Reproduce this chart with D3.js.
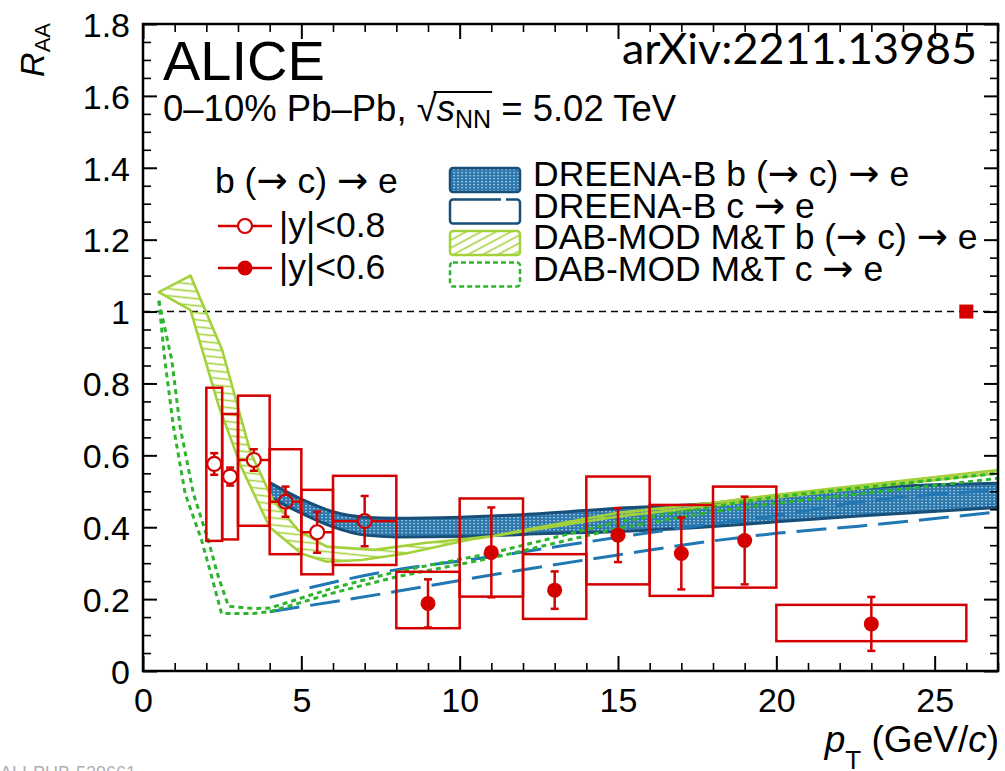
<!DOCTYPE html>
<html><head><meta charset="utf-8">
<script src="https://cdn.jsdelivr.net/npm/d3@7/dist/d3.min.js"></script>
<style>
body{margin:0;background:#fff;}
svg{display:block;}
text{font-family:"Liberation Sans",Arial,Helvetica,sans-serif;fill:#000;}
</style></head><body>
<svg id="chart" width="1005" height="771"></svg>
<script>
// ---------------- data ----------------
const xMajorTicks=[0,5,10,15,20,25];
const xTickLabels=["0","5","10","15","20","25"];
const yMajorTicks=[0,0.2,0.4,0.6,0.8,1.0,1.2,1.4,1.6,1.8];
const yTickLabels=["0","0.2","0.4","0.6","0.8","1","1.2","1.4","1.6","1.8"];

// b(->c)->e, |y|<0.8 (open markers)
const openPt=[2.25,2.75,3.5,4.5,5.5,7];
const openBinLo=[2,2.5,3,4,5,6];
const openBinHi=[2.5,3,4,5,6,8];
const openRaa=[0.576,0.541,0.587,0.471,0.386,0.417];
const openStat=[0.03,0.025,0.03,0.042,0.057,0.07];
const openSysLo=[0.362,0.366,0.404,0.325,0.269,0.295];
const openSysHi=[0.788,0.715,0.766,0.617,0.504,0.543];

// b(->c)->e, |y|<0.6 (full markers)
const fullPt=[9,11,13,15,17,19,23];
const fullBinLo=[8,10,12,14,16,18,20];
const fullBinHi=[10,12,14,16,18,20,26];
const fullRaa=[0.188,0.330,0.225,0.378,0.327,0.363,0.131];
const fullStat=[0.067,0.125,0.052,0.075,0.100,0.122,0.075];
const fullSysLo=[0.119,0.207,0.145,0.241,0.209,0.232,0.083];
const fullSysHi=[0.276,0.480,0.325,0.541,0.462,0.513,0.184];

// normalisation uncertainty
const normPt=[26];
const normVal=[1.0];

// DREENA-B b(->c)->e band
const dreenaBX=[4,5,6,7,8,10,12,15,18,20,22.6,27];
const dreenaBHi=[0.524,0.478,0.443,0.428,0.425,0.428,0.435,0.453,0.467,0.487,0.508,0.522];
const dreenaBLo=[0.483,0.439,0.401,0.378,0.373,0.374,0.380,0.388,0.402,0.415,0.431,0.455];

// DREENA-B c->e (two dashed edges)
const dreenaCX=[4,7.5,11,15,18,20,22.6,27];
const dreenaCHi=[0.205,0.274,0.318,0.372,0.410,0.432,0.470,0.503];
const dreenaCLo=[0.165,0.214,0.267,0.323,0.362,0.383,0.403,0.443];

// DAB-MOD M&T b(->c)->e band
const dabBHiX=[0.5,1.5,2.5,3.4,4.1,4.9,5.8,7.3,8.9,11,15,18,20,27];
const dabBHi=[1.054,1.10,0.893,0.607,0.476,0.392,0.346,0.337,0.356,0.375,0.44,0.468,0.49,0.559];
const dabBLoX=[0.5,1.5,2.4,3.1,4.0,5.0,5.8,6.9,8.3,10.3,15,18,20,27];
const dabBLo=[1.054,1.004,0.735,0.568,0.40,0.327,0.304,0.309,0.327,0.365,0.43,0.46,0.483,0.55];

// DAB-MOD M&T c->e (two dotted edges)
const dabCHiX=[0.5,0.91,1.17,1.59,2.06,2.38,2.7,3.48,4,6,8,11,15,18,20,27];
const dabCHi=[1.03,0.865,0.68,0.494,0.364,0.262,0.18,0.174,0.175,0.231,0.276,0.328,0.415,0.457,0.485,0.55];
const dabCLoX=[0.5,0.69,0.96,1.33,1.85,2.17,2.48,3.48,4,6,8,11,15,18,20,27];
const dabCLo=[1.03,0.865,0.68,0.494,0.364,0.262,0.16,0.16,0.165,0.217,0.262,0.314,0.397,0.443,0.467,0.536];

// ---------------- drawing ----------------
const RED="#d40000", DBLUE="#174f78", MBLUE="#1f78b4", LGREEN="#a3d13b", DGREEN="#2db52d";
const svg=d3.select("#chart");
const x=d3.scaleLinear().domain([0,27]).range([143,998]);
const y=d3.scaleLinear().domain([0,1.8]).range([671,24]);
const defs=svg.append("defs");
defs.append("clipPath").attr("id","plotclip").append("rect")
  .attr("x",x(0)).attr("y",y(1.8)).attr("width",x(27)-x(0)).attr("height",y(0)-y(1.8));

const pd=defs.append("pattern").attr("id","dots").attr("width",4).attr("height",3).attr("patternUnits","userSpaceOnUse");
pd.append("rect").attr("width",4).attr("height",3).attr("fill","#2b79ae");
pd.append("rect").attr("x",1.5).attr("y",1).attr("width",1.2).attr("height",1.3).attr("fill","#d6e8f3");

const ph=defs.append("pattern").attr("id","hatch").attr("width",10).attr("height",7).attr("patternUnits","userSpaceOnUse").attr("patternTransform","rotate(6)");
ph.append("line").attr("x1",0).attr("y1",3.5).attr("x2",10).attr("y2",3.5).attr("stroke",LGREEN).attr("stroke-width",1.6);
const phl=defs.append("pattern").attr("id","hatchL").attr("width",10).attr("height",7).attr("patternUnits","userSpaceOnUse").attr("patternTransform","rotate(-28)");
phl.append("line").attr("x1",0).attr("y1",3.5).attr("x2",10).attr("y2",3.5).attr("stroke",LGREEN).attr("stroke-width",1.6);

const plot=svg.append("g").attr("clip-path","url(#plotclip)");

// reference line at 1
plot.append("line").attr("x1",x(0)).attr("x2",x(27)).attr("y1",y(1)).attr("y2",y(1))
  .attr("stroke","#000").attr("stroke-width",1.5).attr("stroke-dasharray","7,5");

const zip=(xs,ys)=>xs.map((v,i)=>[v,ys[i]]);
const lineLin=d3.line().x(d=>x(d[0])).y(d=>y(d[1]));
const lineSm=d3.line().x(d=>x(d[0])).y(d=>y(d[1])).curve(d3.curveMonotoneX);

// DREENA-B band
const areaD=d3.area().x((d,i)=>x(dreenaBX[i])).y0((d,i)=>y(dreenaBLo[i])).y1((d,i)=>y(dreenaBHi[i])).curve(d3.curveMonotoneX);
plot.append("path").attr("d",areaD(dreenaBX)).attr("fill","url(#dots)").attr("stroke","none");
[dreenaBHi,dreenaBLo].forEach(arr=>{
  plot.append("path").attr("d",lineSm(zip(dreenaBX,arr))).attr("fill","none").attr("stroke",DBLUE).attr("stroke-width",3);
});
// DREENA-B c->e
[dreenaCHi,dreenaCLo].forEach(arr=>{
  plot.append("path").attr("d",lineSm(zip(dreenaCX,arr))).attr("fill","none").attr("stroke",MBLUE)
    .attr("stroke-width",3).attr("stroke-dasharray","30,11");
});
// DAB-MOD band
const dabPoly=zip(dabBHiX,dabBHi).concat(zip(dabBLoX,dabBLo).reverse());
plot.append("path").attr("d",lineLin(dabPoly)+"Z").attr("fill","url(#hatch)")
  .attr("stroke",LGREEN).attr("stroke-width",2.6).attr("stroke-linejoin","round");
// DAB-MOD c->e
[[dabCHiX,dabCHi],[dabCLoX,dabCLo]].forEach(([xs,ys])=>{
  plot.append("path").attr("d",lineLin(zip(xs,ys))).attr("fill","none").attr("stroke",DGREEN)
    .attr("stroke-width",3).attr("stroke-dasharray","5,4");
});

// data: systematic boxes
const data=svg.append("g");
function boxes(lo,hi,slo,shi){
  data.selectAll(null).data(lo).enter().append("rect")
    .attr("x",(d,i)=>x(lo[i])).attr("width",(d,i)=>x(hi[i])-x(lo[i]))
    .attr("y",(d,i)=>y(shi[i])).attr("height",(d,i)=>y(slo[i])-y(shi[i]))
    .attr("fill","none").attr("stroke",RED).attr("stroke-width",2.5);
}
boxes(openBinLo,openBinHi,openSysLo,openSysHi);
boxes(fullBinLo,fullBinHi,fullSysLo,fullSysHi);
function seg(x1,y1,x2,y2){
  data.append("line").attr("x1",x1).attr("x2",x2).attr("y1",y1).attr("y2",y2).attr("stroke",RED).attr("stroke-width",2.5);
}
function errs(pt,raa,st,rad,binLo,binHi){
  pt.forEach((p,i)=>{
    const cx=x(p), cy=y(raa[i]), yt=y(raa[i]+st[i]), yb=y(raa[i]-st[i]);
    if(cy-yt>rad) seg(cx,yt,cx,cy-rad);
    if(yb-cy>rad) seg(cx,cy+rad,cx,yb);
    [yt,yb].forEach(v=>seg(cx-4,v,cx+4,v));
    if(binLo){
      const xl=x(binLo[i]), xr=x(binHi[i]);
      if(cx-xl>rad) seg(xl,cy,cx-rad,cy);
      if(xr-cx>rad) seg(cx+rad,cy,xr,cy);
    }
  });
}
errs(openPt,openRaa,openStat,7,openBinLo,openBinHi);
errs(fullPt,fullRaa,fullStat,0,null,null);
data.selectAll(null).data(openPt).enter().append("circle")
  .attr("cx",d=>x(d)).attr("cy",(d,i)=>y(openRaa[i])).attr("r",7)
  .attr("fill","none").attr("stroke",RED).attr("stroke-width",2.2);
data.selectAll(null).data(fullPt).enter().append("circle")
  .attr("cx",d=>x(d)).attr("cy",(d,i)=>y(fullRaa[i])).attr("r",7.5).attr("fill",RED);
data.selectAll(null).data(normPt).enter().append("rect")
  .attr("x",d=>x(d)-7).attr("y",(d,i)=>y(normVal[i])-7).attr("width",14).attr("height",14).attr("fill",RED);

// ---------------- axes ----------------
const xMinor=d3.range(0,28,1).filter(v=>v%5!==0);
const yMinor=d3.range(0,1.8001,0.05).map(v=>+v.toFixed(2)).filter(v=>Math.abs(v*5-Math.round(v*5))>1e-6);
function ax(gen,transform,vals,size,labels,pad,fs){
  const g=svg.append("g").attr("transform",transform)
    .call(gen.tickValues(vals).tickSize(size).tickPadding(pad||0)
      .tickFormat(labels?((d,i)=>labels[i]):""));
  g.select(".domain").remove();
  g.selectAll(".tick line").attr("stroke","#000").attr("stroke-width",size<-10?2:1.6);
  g.selectAll("text").attr("font-size",fs||34).attr("fill","#000").style("font-family",'"Liberation Sans",Arial,sans-serif');
  return g;
}
ax(d3.axisBottom(x),`translate(0,${y(0)})`,xMajorTicks,-15,xTickLabels,17,34);
ax(d3.axisBottom(x),`translate(0,${y(0)})`,xMinor,-8);
ax(d3.axisTop(x),`translate(0,${y(1.8)})`,xMajorTicks,-15);
ax(d3.axisTop(x),`translate(0,${y(1.8)})`,xMinor,-8);
const yl=ax(d3.axisLeft(y),`translate(${x(0)},0)`,yMajorTicks,-14,yTickLabels,13,34);
yl.selectAll("text").attr("dy","0.36em");
ax(d3.axisLeft(y),`translate(${x(0)},0)`,yMinor,-8);
ax(d3.axisRight(y),`translate(${x(27)},0)`,yMajorTicks,-14);
ax(d3.axisRight(y),`translate(${x(27)},0)`,yMinor,-8);
svg.append("rect").attr("x",x(0)).attr("y",y(1.8)).attr("width",x(27)-x(0)).attr("height",y(0)-y(1.8))
  .attr("fill","none").attr("stroke","#000").attr("stroke-width",2.5);

// axis titles
const ra=svg.append("text").attr("transform","translate(44,23) rotate(-90)").attr("text-anchor","end").attr("font-size",34);
ra.append("tspan").attr("font-style","italic").text("R");
ra.append("tspan").attr("font-size",22).attr("dy",6).text("AA");

const pt=svg.append("text").attr("x",999).attr("y",752).attr("text-anchor","end").attr("font-size",37);
pt.append("tspan").attr("font-style","italic").text("p");
pt.append("tspan").attr("font-size",26).attr("dy",17).text("T");
pt.append("tspan").attr("dy",-17).text(" (GeV/");
pt.append("tspan").attr("font-style","italic").text("c");
pt.append("tspan").text(")");

// labels
svg.append("text").attr("x",163).attr("y",80).attr("font-size",56).text("ALICE");
svg.append("text").attr("x",977).attr("y",64).attr("text-anchor","end").attr("font-size",42)
  .attr("textLength",355).attr("lengthAdjust","spacingAndGlyphs")
  .style("font-family","Lato, 'Open Sans', sans-serif").text("arXiv:2211.13985");

const en=svg.append("text").attr("x",163).attr("y",121).attr("font-size",36.5);
en.append("tspan").text("0–10% Pb–Pb, √");
en.append("tspan").attr("font-style","italic").text("s");
en.append("tspan").attr("font-size",25).attr("dy",7).text("NN");
en.append("tspan").attr("dy",-7).text(" = 5.02 TeV");
{
  const node=en.node();
  const r=node.getExtentOfChar(13), nEnd=node.getExtentOfChar(16);
  svg.append("line").attr("x1",r.x+r.width-3).attr("x2",nEnd.x+nEnd.width+1)
    .attr("y1",121-29).attr("y2",121-29).attr("stroke","#000").attr("stroke-width",1.8);
}

// text with bigger arrows
function arrowText(xp,yp,fs,str){
  const t=svg.append("text").attr("x",xp).attr("y",yp).attr("font-size",fs);
  str.split("→").forEach((part,i)=>{
    if(i>0) t.append("tspan").style("font-family","'DejaVu Sans',sans-serif").attr("font-size",fs*1.05).text("→");
    if(part) t.append("tspan").text(part);
  });
  return t;
}

// left legend
arrowText(215,193,35.5,"b (→ c) → e");
[[226,true,"|y|<0.8",237],[268,false,"|y|<0.6",279]].forEach(([cy,open,lab,by])=>{
  svg.append("line").attr("x1",218).attr("x2",272).attr("y1",cy).attr("y2",cy).attr("stroke",RED).attr("stroke-width",2.5);
  svg.append("circle").attr("cx",245).attr("cy",cy).attr("r",open?7:7.5)
    .attr("fill",open?"#fff":RED).attr("stroke",RED).attr("stroke-width",open?2.2:0);
  svg.append("text").attr("x",279).attr("y",by).attr("font-size",35.5).text(lab);
});

// right legend
const legR=[
  {t:"DREENA-B b (→ c) → e",fill:"url(#dots)",stroke:DBLUE,dash:null},
  {t:"DREENA-B c → e",fill:"#fff",stroke:DBLUE,dash:"48,5,140,5"},
  {t:"DAB-MOD M&T b (→ c) → e",fill:"url(#hatchL)",stroke:LGREEN,dash:null},
  {t:"DAB-MOD M&T c → e",fill:"#fff",stroke:DGREEN,dash:"5,3"}
];
legR.forEach((e,i)=>{
  const cy=180+i*31.5;
  svg.append("rect").attr("x",450).attr("y",cy-12).attr("width",70).attr("height",24).attr("rx",3)
    .attr("fill",e.fill).attr("stroke",e.stroke).attr("stroke-width",2.5).attr("stroke-dasharray",e.dash);
  arrowText(533,cy+6,35.5,e.t);
});

// faint figure id at bottom
svg.append("text").attr("x",0).attr("y",779).attr("font-size",18).style("fill","#b0b0b0").text("ALI-PUB-529661");
</script>
</body></html>
